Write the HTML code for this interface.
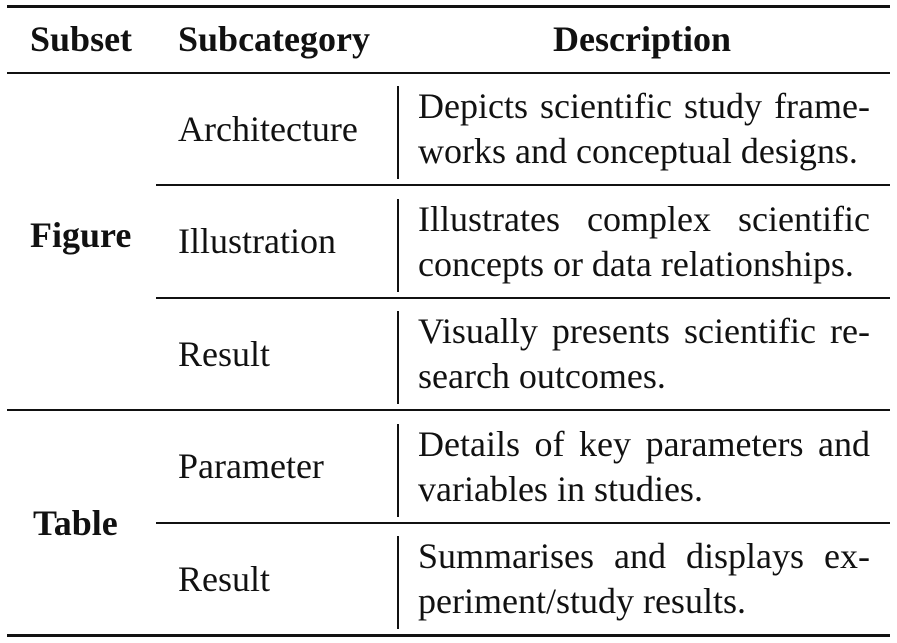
<!DOCTYPE html>
<html><head><meta charset="utf-8"><style>
body{margin:0;width:897px;height:643px;background:#fff;position:relative;overflow:hidden;font-family:"Liberation Serif","Times New Roman",serif;color:#111;}
.t{position:absolute;font-size:36px;line-height:36px;white-space:nowrap;}
.b{font-weight:bold;}
.r{position:absolute;background:#111;}
.d{position:absolute;left:418px;width:452px;font-size:36px;line-height:36px;}
.j{text-align:justify;text-align-last:justify;white-space:nowrap;}
.v{position:absolute;left:397px;width:2px;background:#111;}
</style></head><body>
<div class="r" style="left:7px;top:5px;width:883px;height:3px"></div>
<div class="t b" style="left:30px;top:21px">Subset</div>
<div class="t b" style="left:178px;top:21px">Subcategory</div>
<div class="t b" style="left:553px;top:21px">Description</div>
<div class="r" style="left:7px;top:72px;width:883px;height:2px"></div>

<div class="t b" style="left:30px;top:217px">Figure</div>
<div class="t b" style="left:33px;top:505px">Table</div>

<div class="t" style="left:178px;top:111px">Architecture</div>
<div class="v" style="top:86px;height:93px"></div>
<div class="d j" style="top:88px">Depicts scientific study frame-</div>
<div class="d" style="top:133px">works and conceptual designs.</div>
<div class="r" style="left:156px;top:184px;width:734px;height:2px"></div>

<div class="t" style="left:178px;top:223px">Illustration</div>
<div class="v" style="top:199px;height:93px"></div>
<div class="d j" style="top:201px">Illustrates complex scientific</div>
<div class="d" style="top:246px">concepts or data relationships.</div>
<div class="r" style="left:156px;top:297px;width:734px;height:2px"></div>

<div class="t" style="left:178px;top:336px">Result</div>
<div class="v" style="top:311px;height:93px"></div>
<div class="d j" style="top:313px">Visually presents scientific re-</div>
<div class="d" style="top:358px">search outcomes.</div>
<div class="r" style="left:7px;top:409px;width:883px;height:2px"></div>

<div class="t" style="left:178px;top:448px">Parameter</div>
<div class="v" style="top:424px;height:93px"></div>
<div class="d j" style="top:426px">Details of key parameters and</div>
<div class="d" style="top:471px">variables in studies.</div>
<div class="r" style="left:156px;top:522px;width:734px;height:2px"></div>

<div class="t" style="left:178px;top:561px">Result</div>
<div class="v" style="top:536px;height:93px"></div>
<div class="d j" style="top:538px">Summarises and displays ex-</div>
<div class="d" style="top:583px">periment/study results.</div>
<div class="r" style="left:7px;top:634px;width:883px;height:3px"></div>
</body></html>
